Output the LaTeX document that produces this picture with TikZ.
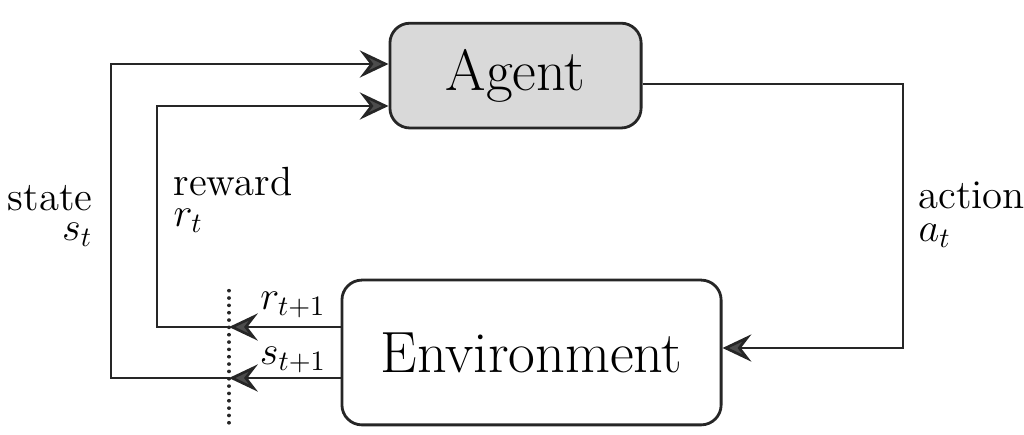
\documentclass[tikz,border=0pt]{standalone}
\usetikzlibrary{arrows.meta}
\begin{document}
\begin{tikzpicture}[
    blocco/.style={draw=black!85, line width=1pt, rounded corners=0.25cm, font=\fontsize{20.7}{24}\selectfont},
    linea/.style={draw=black!85, line width=0.95pt},
    freccia/.style={linea, -{Stealth[length=3.6mm, width=3.4mm, inset=1.3mm, fill=black!70]}},
    etichetta/.style={font=\fontsize{14.5}{16}\selectfont, inner sep=0pt}
]
    \useasboundingbox (0,0) rectangle (12.8,5.425);

    % Blocchi
    \node[blocco, fill=black!15, minimum width=3.14cm, minimum height=1.31cm] (agent) at (6.444,4.48) {Agent};
    \node[blocco, minimum width=4.74cm, minimum height=1.81cm] (env) at (6.644,1.019) {Environment};

    % Punti di passaggio
    \coordinate (sdot) at (2.8625,0.7);
    \coordinate (rdot) at (2.8625,1.3375);
    \coordinate (stop) at (1.3875,4.625);
    \coordinate (rtop) at (1.9625,4.1);
    \coordinate (atop) at (11.2875,4.375);
    \coordinate (abot) at (11.2875,1.075);

    % Stato
    \draw[freccia] (sdot -| env.west) -- (sdot);
    \draw[freccia] (sdot) -| (stop) -- (stop -| agent.west);

    % Ricompensa
    \draw[freccia] (rdot -| env.west) -- (rdot);
    \draw[freccia] (rdot) -| (rtop) -- (rtop -| agent.west);

    % Azione
    \draw[freccia] (atop -| agent.east) -- (atop) -- (abot) -- (abot -| env.east);

    % Linea verticale punteggiata
    \draw[black!85, line width=1.3pt, line cap=round, dash pattern=on 0.01pt off 2.6pt] (2.8625,0.14) -- (2.8625,1.825);

    % Etichette
    \node[etichetta, anchor=base east] (state) at (1.1625,2.8) {state};
    \node[etichetta, anchor=base east] (st) at ([yshift=-10.8pt]state.base east) {$s_t$};
    \node[etichetta, anchor=base west] (reward) at (2.1625,2.9875) {reward};
    \node[etichetta, anchor=base west] (rt) at ([yshift=-11.3pt]reward.base west) {$r_t$};
    \node[etichetta, anchor=base west] (action) at (11.475,2.825) {action};
    \node[etichetta, anchor=base west] (at) at ([yshift=-12pt]action.base west) {$a_t$};
    \node[etichetta] (rnext) at (3.6625,1.6125) {$r_{t+1}$};
    \node[etichetta] (snext) at (3.6625,0.925) {$s_{t+1}$};

\end{tikzpicture}
\end{document}
